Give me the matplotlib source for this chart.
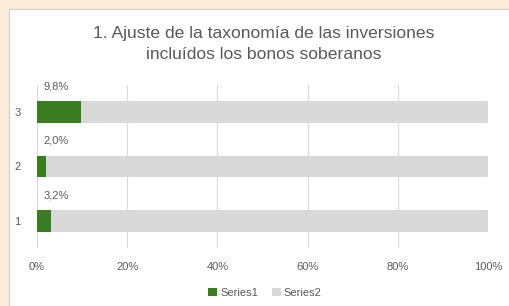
import matplotlib.pyplot as plt
from matplotlib.patches import Rectangle

# data
categories = ['1', '2', '3']
series1 = [3.2, 2.0, 9.8]
series2 = [96.8, 98.0, 90.2]
labels = ['3,2%', '2,0%', '9,8%']
xticks = [0, 20, 40, 60, 80, 100]

green = '#3b7d23'
grey = '#d9d9d9'
txt = '#595959'

plt.rcParams['font.family'] = ['Liberation Sans', 'DejaVu Sans']

fig = plt.figure(figsize=(5.1, 3.06), dpi=100, facecolor='#fbebd8')
# white chart panel
fig.patches.append(Rectangle((9 / 510, -0.01), 1, 1 - 9 / 306 + 0.01, transform=fig.transFigure,
                             facecolor='white', edgecolor='#d0d0d0', lw=0.8, zorder=-5))

ax = fig.add_axes([37 / 510, 1 - 248 / 306, 451 / 510, 163 / 306])
ax.set_facecolor('none')

pos = range(1, len(categories) + 1)
ax.barh(pos, series1, height=0.4, color=green, label='Series1', zorder=3)
ax.barh(pos, series2, left=series1, height=0.4, color=grey, label='Series2', zorder=3)

for p, lab in zip(pos, labels):
    ax.text(1.4, p + 0.47, lab, ha='left', va='center', fontsize=8, color=txt)

ax.set_xlim(0, 100)
ax.set_ylim(0.5, 3.5)
ax.set_xticks(xticks)
ax.set_xticklabels([f'{t}%' for t in xticks])
ax.set_yticks(list(pos))
ax.set_yticklabels(categories)
ax.tick_params(length=0, labelsize=8, colors=txt, pad=10)
ax.tick_params(axis='y', pad=12)
ax.grid(axis='x', color=grey, lw=0.8, zorder=0)
for s in ax.spines.values():
    s.set_visible(False)

fig.text(264 / 510, 1 - 44 / 306, '1. Ajuste de la taxonomía de las inversiones\nincluídos los bonos soberanos',
         ha='center', va='center', fontsize=12.6, color=txt, linespacing=1.5)

fig.legend(loc='center', bbox_to_anchor=(265 / 510, 1 - 293 / 306), ncol=2, frameon=False,
           fontsize=8, labelcolor=txt, handlelength=0.8, handleheight=0.8,
           handletextpad=0.3, columnspacing=1.2)

fig.savefig('out.png', dpi=100, facecolor=fig.get_facecolor())
